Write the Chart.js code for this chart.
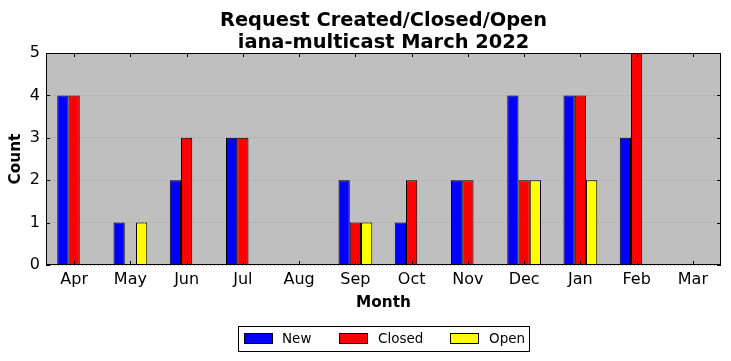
<!DOCTYPE html>
<html>
<head>
<meta charset="utf-8">
<script src="https://cdn.jsdelivr.net/npm/chart.js@4"></script>
<style>
html,body{margin:0;padding:0;background:#fff;}
canvas{display:block;}
</style>
</head>
<body>
<canvas id="c" width="731" height="361"></canvas>
<script>
const months = ["Apr","May","Jun","Jul","Aug","Sep","Oct","Nov","Dec","Jan","Feb","Mar"];
const newCounts    = [4,1,2,3,0,2,1,2,4,4,3,0];
const closedCounts = [4,0,3,3,0,1,2,2,2,4,5,0];
const openCounts   = [0,1,0,0,0,1,0,0,2,2,0,0];
const yTicks = [0,1,2,3,4,5];
const titleLines = ["Request Created/Closed/Open","iana-multicast March 2022"];

const FONT = "'DejaVu Sans', sans-serif";

const decor = {
  id: 'decor',
  beforeDraw(chart) {
    const {ctx, chartArea: a} = chart;
    ctx.save();
    ctx.fillStyle = '#fff';
    ctx.fillRect(0,0,chart.width,chart.height);
    ctx.fillStyle = '#bfbfbf';
    ctx.fillRect(a.left, a.top, a.right - a.left, a.bottom - a.top);
    ctx.restore();
  },
  afterDatasetsDraw(chart) {
    const {ctx} = chart;
    ctx.save();
    ctx.strokeStyle = 'rgba(0,0,0,0.35)';
    ctx.lineWidth = 1;
    chart.data.datasets.forEach((ds, di) => {
      const meta = chart.getDatasetMeta(di);
      meta.data.forEach((el, i) => {
        if (ds.data[i] === 0) {
          const w = el.width;
          ctx.beginPath();
          ctx.moveTo(el.x - w / 2, Math.round(el.y) - 0.5);
          ctx.lineTo(el.x + w / 2, Math.round(el.y) - 0.5);
          ctx.stroke();
        }
      });
    });
    ctx.restore();
  },
  afterDraw(chart) {
    const {ctx, chartArea: a, scales} = chart;
    ctx.save();
    ctx.strokeStyle = '#000';
    ctx.lineWidth = 1;
    ctx.beginPath();
    months.forEach((m, i) => {
      const x = Math.round(scales.x.getPixelForValue(i)) + 0.5;
      ctx.moveTo(x, a.bottom); ctx.lineTo(x, a.bottom - 4);
      ctx.moveTo(x, a.top); ctx.lineTo(x, a.top + 4);
    });
    yTicks.forEach(v => {
      const y = Math.round(scales.y.getPixelForValue(v)) + 0.5;
      ctx.moveTo(a.left, y); ctx.lineTo(a.left + 4, y);
      ctx.moveTo(a.right, y); ctx.lineTo(a.right - 4, y);
    });
    ctx.stroke();
    ctx.strokeRect(a.left + 0.5, a.top + 0.5, a.right - a.left - 1, a.bottom - a.top - 1);
    // title
    ctx.fillStyle = '#000';
    ctx.textAlign = 'center';
    ctx.textBaseline = 'alphabetic';
    ctx.font = "bold 19.4px " + FONT;
    const cx = (a.left + a.right) / 2;
    ctx.fillText(titleLines[0], cx, 26);
    ctx.fillText(titleLines[1], cx, 48);
    // axis titles
    ctx.font = "bold 15.3px " + FONT;
    ctx.textBaseline = 'middle';
    ctx.fillText("Month", cx, 303);
    ctx.save();
    ctx.translate(16, (a.top + a.bottom) / 2);
    ctx.rotate(-Math.PI / 2);
    ctx.fillText("Count", 0, 0);
    ctx.restore();
    // legend
    ctx.fillStyle = '#fff';
    ctx.fillRect(238.5, 326.5, 291, 25);
    ctx.strokeStyle = '#000';
    ctx.strokeRect(238.5, 326.5, 291, 25);
    const entries = [
      {x: 244, tx: 282},
      {x: 339, tx: 378},
      {x: 450, tx: 489}
    ];
    ctx.font = "13.5px " + FONT;
    ctx.textAlign = 'left';
    chart.data.datasets.forEach((ds, i) => {
      const e = entries[i];
      ctx.fillStyle = ds.backgroundColor;
      ctx.fillRect(e.x + 0.5, 333.5, 28, 10);
      ctx.strokeRect(e.x + 0.5, 333.5, 28, 10);
      ctx.fillStyle = '#000';
      ctx.fillText(ds.label, e.tx, 339);
    });
    ctx.restore();
  }
};

new Chart(document.getElementById('c'), {
  type: 'bar',
  data: {
    labels: months,
    datasets: [
      {label: 'New', data: newCounts, backgroundColor: '#0000ff', borderColor: '#000', borderWidth: 1},
      {label: 'Closed', data: closedCounts, backgroundColor: '#ff0000', borderColor: '#000', borderWidth: 1},
      {label: 'Open', data: openCounts, backgroundColor: '#ffff00', borderColor: '#000', borderWidth: 1}
    ]
  },
  options: {
    responsive: false,
    animation: false,
    devicePixelRatio: 1,
    layout: {padding: {top: 53, right: 10, left: 0, bottom: 0}},
    datasets: {bar: {categoryPercentage: 0.6, barPercentage: 1.0}},
    plugins: {legend: {display: false}, title: {display: false}, tooltip: {enabled: false}},
    scales: {
      x: {
        grid: {display: false, drawTicks: false},
        border: {display: false},
        ticks: {color: '#000', font: {family: FONT, size: 16}, padding: 5, autoSkip: false, maxRotation: 0},
        afterFit(s) { s.height = 96; }
      },
      y: {
        min: 0, max: 5,
        grid: {color: '#999999', drawTicks: false},
        border: {display: false, dash: [1,3]},
        ticks: {color: '#000', font: {family: FONT, size: 16}, padding: 6, stepSize: 1,
                callback: v => yTicks.includes(v) ? String(v) : ''},
        afterFit(s) { s.width = 46; }
      }
    }
  },
  plugins: [decor]
});
</script>
</body>
</html>
